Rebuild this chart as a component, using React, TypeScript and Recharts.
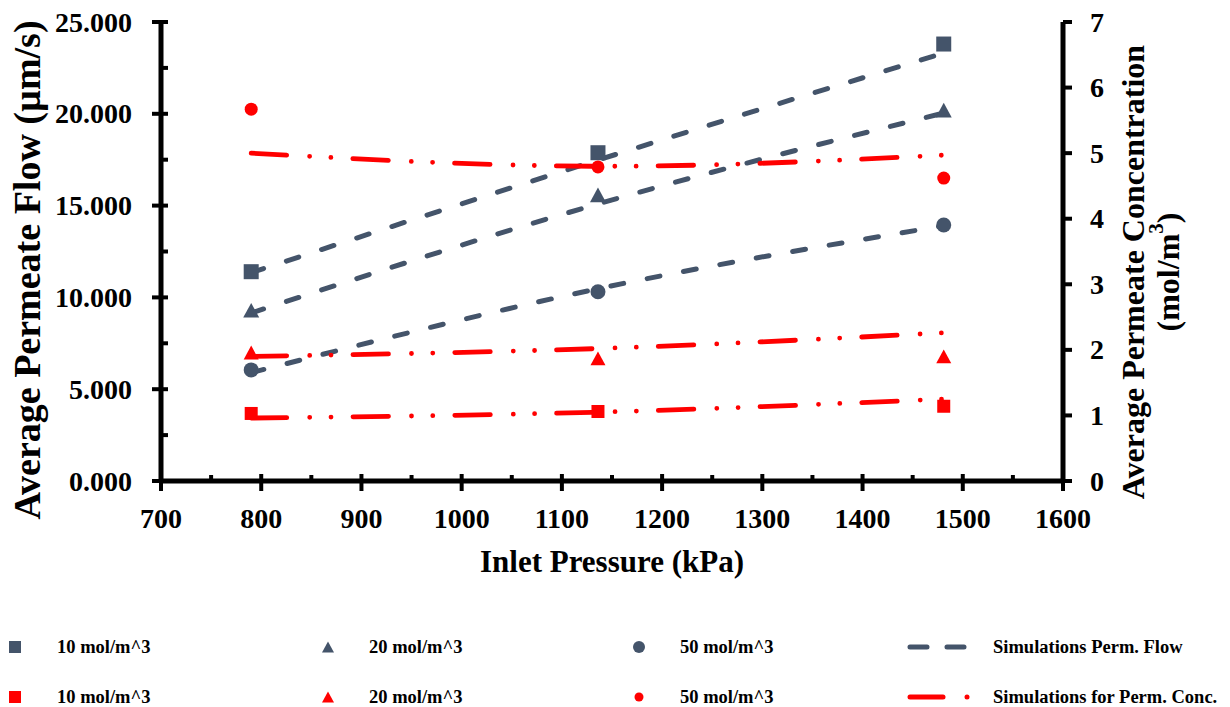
import { ComposedChart, Legend, Line, Scatter, XAxis, YAxis } from 'recharts';

// inlet pressure (kPa) of the three runs
const pressure = [790, 1136, 1481];

// measured average permeate flow (µm/s)
const flow10 = [11.4, 17.88, 23.8];
const flow20 = [9.3, 15.58, 20.2];
const flow50 = [6.05, 10.31, 13.94];

// measured average permeate concentration (mol/m3)
const conc10 = [1.03, 1.06, 1.14];
const conc20 = [1.96, 1.87, 1.9];
const conc50 = [5.67, 4.79, 4.62];

// simulation curves
const simFlow10 = [11.35, 17.48, 23.31];
const simFlow20 = [9.15, 15.09, 20.04];
const simFlow50 = [5.9, 10.47, 13.9];
const simConc10 = [0.96, 1.05, 1.25];
const simConc20 = [1.9, 2.02, 2.26];
const simConc50 = [5.0, 4.8, 4.97];

const xTicks = [700, 750, 800, 850, 900, 950, 1000, 1050, 1100, 1150, 1200, 1250, 1300, 1350, 1400, 1450, 1500, 1550, 1600];
const flowTicks = [0, 2.5, 5, 7.5, 10, 12.5, 15, 17.5, 20, 22.5, 25];
const concTicks = [0, 1, 2, 3, 4, 5, 6, 7];

const BLUE = '#44546A';
const RED = '#FF0000';
const FONT = '"Liberation Serif", "Times New Roman", serif';

const data = pressure.map((p, i) => ({
  p,
  flow10: flow10[i],
  flow20: flow20[i],
  flow50: flow50[i],
  conc10: conc10[i],
  conc20: conc20[i],
  conc50: conc50[i],
  simFlow10: simFlow10[i],
  simFlow20: simFlow20[i],
  simFlow50: simFlow50[i],
  simConc10: simConc10[i],
  simConc20: simConc20[i],
  simConc50: simConc50[i],
}));

const legendItems = [
  { label: '10 mol/m^3', icon: 'square', color: BLUE },
  { label: '20 mol/m^3', icon: 'triangle', color: BLUE },
  { label: '50 mol/m^3', icon: 'circle', color: BLUE },
  { label: 'Simulations Perm. Flow', icon: 'dash', color: BLUE },
  { label: '10 mol/m^3', icon: 'square', color: RED },
  { label: '20 mol/m^3', icon: 'triangle', color: RED },
  { label: '50 mol/m^3', icon: 'circle', color: RED },
  { label: 'Simulations for Perm. Conc.', icon: 'dashdot', color: RED },
];

const tickText = {
  fontFamily: FONT,
  fontWeight: 'bold' as const,
  fontSize: 28,
  fill: '#000',
};

function marker(kind: string, color: string, s: number) {
  return (props: any) => {
    const { cx, cy } = props;
    if (cx == null || cy == null) return <g />;
    if (kind === 'square')
      return <rect x={cx - s / 2} y={cy - s / 2} width={s} height={s} fill={color} />;
    if (kind === 'triangle') {
      const h = s * 0.92;
      return (
        <polygon
          points={`${cx},${cy - h / 2} ${cx + s / 2},${cy + h / 2} ${cx - s / 2},${cy + h / 2}`}
          fill={color}
        />
      );
    }
    return <circle cx={cx} cy={cy} r={s / 2} fill={color} />;
  };
}

function XTick(props: any) {
  const { x, y, payload } = props;
  const major = payload.value % 100 === 0;
  return (
    <g>
      <line x1={x} x2={x} y1={y - (major ? 7 : 6)} y2={major ? y + 10 : y} stroke="#000" strokeWidth={4} />
      {major && (
        <text x={x} y={y + 47} textAnchor="middle" {...tickText}>
          {payload.value}
        </text>
      )}
    </g>
  );
}

function LeftTick(props: any) {
  const { x, y, payload } = props;
  const major = payload.value % 5 === 0;
  return (
    <g>
      <line x1={major ? x - 9 : x} x2={x + 7} y1={y} y2={y} stroke="#000" strokeWidth={4} />
      {major && (
        <text x={x - 29} y={y + 9.5} textAnchor="end" {...tickText}>
          {payload.value.toFixed(3)}
        </text>
      )}
    </g>
  );
}

function RightTick(props: any) {
  const { x, y, payload } = props;
  return (
    <g>
      <line x1={x} x2={x + 9} y1={y} y2={y} stroke="#000" strokeWidth={4} />
      <text x={x + 27} y={y + 9.5} textAnchor="start" {...tickText}>
        {payload.value}
      </text>
    </g>
  );
}

function XTitle(props: any) {
  const vb = props.viewBox || { x: 161, y: 481, width: 902, height: 126 };
  return (
    <text x={vb.x + vb.width / 2} y={vb.y + 91} textAnchor="middle" fontFamily={FONT} fontWeight="bold" fontSize={31} fill="#000">
      Inlet Pressure (kPa)
    </text>
  );
}

function LeftTitle(props: any) {
  const vb = props.viewBox || { x: 0, y: 22, width: 161, height: 459 };
  const cx = vb.x + 27;
  const cy = vb.y + 248;
  return (
    <text
      x={cx}
      y={cy}
      transform={`rotate(-90 ${cx} ${cy})`}
      textAnchor="middle"
      dominantBaseline="central"
      fontFamily={FONT}
      fontWeight="bold"
      fontSize={38}
      fill="#000"
    >
      Average Permeate Flow (µm/s)
    </text>
  );
}

function RightTitle(props: any) {
  const vb = props.viewBox || { x: 1063, y: 22, width: 167, height: 459 };
  const c1x = vb.x + 70;
  const c2x = vb.x + 105;
  const cy = vb.y + 250;
  const style = { fontFamily: FONT, fontWeight: 'bold' as const, fontSize: 32, fill: '#000' };
  return (
    <g>
      <text x={c1x} y={cy} transform={`rotate(-90 ${c1x} ${cy})`} textAnchor="middle" dominantBaseline="central" {...style}>
        Average Permeate Concentration
      </text>
      <text x={c2x} y={cy} transform={`rotate(-90 ${c2x} ${cy})`} textAnchor="middle" dominantBaseline="central" {...style}>
        (mol/m<tspan dy={-12} fontSize={21}>3</tspan>
        <tspan dy={12}>)</tspan>
      </text>
    </g>
  );
}

function LegendIcon({ icon, color, red }: { icon: string; color: string; red: boolean }) {
  if (icon === 'dash')
    return (
      <svg width={70} height={12} style={{ display: 'block' }}>
        <line x1={5} x2={67} y1={6} y2={6} stroke={color} strokeWidth={5} strokeLinecap="round" strokeDasharray="17 20" />
      </svg>
    );
  if (icon === 'dashdot')
    return (
      <svg width={70} height={12} style={{ display: 'block' }}>
        <line x1={5} x2={38} y1={6} y2={6} stroke={color} strokeWidth={5} strokeLinecap="round" />
        <circle cx={62} cy={6} r={2.5} fill={color} />
      </svg>
    );
  const s = red && icon === 'circle' ? 9 : 12;
  return (
    <svg width={14} height={14} style={{ display: 'block' }}>
      {icon === 'square' && <rect x={7 - s / 2} y={7 - s / 2} width={s} height={s} fill={color} />}
      {icon === 'triangle' && <polygon points={`7,1.5 13,12.5 1,12.5`} fill={color} />}
      {icon === 'circle' && <circle cx={7} cy={7} r={s / 2} fill={color} />}
    </svg>
  );
}

function LegendBox() {
  const iconX = [15, 328, 639, 944];
  const textX = [57, 369, 680, 993];
  const rowY = [40, 90];
  return (
    <div style={{ position: 'relative', width: 1230, height: 100, fontFamily: FONT, fontWeight: 'bold', fontSize: 18.5 }}>
      {legendItems.map((it, i) => {
        const col = i % 4;
        const row = Math.floor(i / 4);
        const wide = it.icon === 'dash' || it.icon === 'dashdot';
        const w = wide ? 70 : 14;
        return (
          <div key={i}>
            <div
              style={{
                position: 'absolute',
                left: iconX[col] - (wide ? 39 : 7),
                top: rowY[row] - (wide ? 6 : 7),
                width: w,
              }}
            >
              <LegendIcon icon={it.icon} color={it.color} red={row === 1} />
            </div>
            <div
              style={{
                position: 'absolute',
                left: textX[col],
                top: rowY[row] - 11,
                lineHeight: '22px',
                whiteSpace: 'nowrap',
                color: '#000',
              }}
            >
              {it.label}
            </div>
          </div>
        );
      })}
    </div>
  );
}

const flowLine = { strokeWidth: 5, strokeDasharray: '13 24', strokeLinecap: 'round' as const };
const concLine = { strokeWidth: 4.8, strokeDasharray: '35.5 23 0 21.3 0 22', strokeLinecap: 'round' as const };

export default function App() {
  return (
    <div style={{ position: 'absolute', left: 0, top: 0, background: '#fff' }}>
      <ComposedChart width={1230} height={707} data={data} margin={{ top: 22, right: 0, bottom: 0, left: 0 }}>
        <XAxis
          dataKey="p"
          type="number"
          domain={[700, 1600]}
          ticks={xTicks}
          interval={0}
          height={126}
          tickSize={0}
          tickMargin={0}
          tickLine={false}
          axisLine={{ stroke: '#000', strokeWidth: 5 }}
          tick={<XTick />}
          label={<XTitle />}
        />
        <YAxis
          yAxisId="left"
          orientation="left"
          domain={[0, 25]}
          ticks={flowTicks}
          interval={0}
          width={161}
          tickSize={0}
          tickMargin={0}
          tickLine={false}
          axisLine={{ stroke: '#000', strokeWidth: 5 }}
          tick={<LeftTick />}
          label={<LeftTitle />}
        />
        <YAxis
          yAxisId="right"
          orientation="right"
          domain={[0, 7]}
          ticks={concTicks}
          interval={0}
          width={167}
          tickSize={0}
          tickMargin={0}
          tickLine={false}
          axisLine={{ stroke: '#000', strokeWidth: 5 }}
          tick={<RightTick />}
          label={<RightTitle />}
        />
        <Legend verticalAlign="bottom" content={<LegendBox />} wrapperStyle={{ left: 0, bottom: 0, width: 1230, height: 100 }} />

        <Line yAxisId="left" type="natural" dataKey="simFlow10" stroke={BLUE} {...flowLine} dot={false} isAnimationActive={false} legendType="none" />
        <Line yAxisId="left" type="natural" dataKey="simFlow20" stroke={BLUE} {...flowLine} dot={false} isAnimationActive={false} legendType="none" />
        <Line yAxisId="left" type="natural" dataKey="simFlow50" stroke={BLUE} {...flowLine} dot={false} isAnimationActive={false} legendType="none" />
        <Line yAxisId="right" type="natural" dataKey="simConc10" stroke={RED} {...concLine} dot={false} isAnimationActive={false} legendType="none" />
        <Line yAxisId="right" type="natural" dataKey="simConc20" stroke={RED} {...concLine} dot={false} isAnimationActive={false} legendType="none" />
        <Line yAxisId="right" type="natural" dataKey="simConc50" stroke={RED} {...concLine} dot={false} isAnimationActive={false} legendType="none" />

        <Scatter yAxisId="left" dataKey="flow10" shape={marker('square', BLUE, 15)} isAnimationActive={false} />
        <Scatter yAxisId="left" dataKey="flow20" shape={marker('triangle', BLUE, 16)} isAnimationActive={false} />
        <Scatter yAxisId="left" dataKey="flow50" shape={marker('circle', BLUE, 15)} isAnimationActive={false} />
        <Scatter yAxisId="right" dataKey="conc10" shape={marker('square', RED, 13)} isAnimationActive={false} />
        <Scatter yAxisId="right" dataKey="conc20" shape={marker('triangle', RED, 15)} isAnimationActive={false} />
        <Scatter yAxisId="right" dataKey="conc50" shape={marker('circle', RED, 13)} isAnimationActive={false} />
      </ComposedChart>
    </div>
  );
}
